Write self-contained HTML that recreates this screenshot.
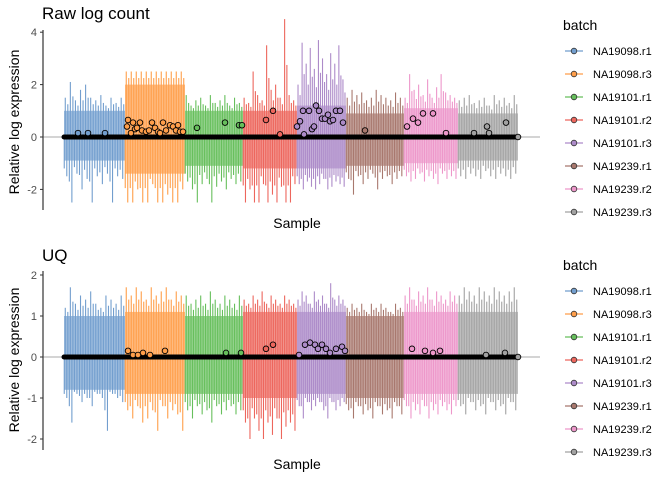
<!DOCTYPE html>
<html><head><meta charset="utf-8"><style>
body{margin:0;background:#fff;font-family:"Liberation Sans",sans-serif}
svg text{font-family:"Liberation Sans",sans-serif}
</style></head><body>
<svg id="c" width="672" height="480"></svg>
<script>
const batches=["NA19098.r1","NA19098.r3","NA19101.r1","NA19101.r2","NA19101.r3","NA19239.r1","NA19239.r2","NA19239.r3"];
const colors=["#729ece","#ff9e4a","#67bf5c","#ed665d","#ad8bc9","#a8786e","#ed97ca","#a2a2a2"];
const sampleCounts=[61,60,58,54,49,58,54,60];
// Raw log count panel
const rawCoreHi=[1.0,2.0,1.0,1.0,1.2,0.9,1.1,0.9];
const rawCoreLo=[-0.9,-1.4,-1.1,-1.2,-1.2,-1.1,-1.0,-0.9];
const rawHi=[[1.5,2.1,1.4,1.8,2.0,1.5,1.4,1.6,1.2,1.5,1.3,1.5],[2.5,2.5,2.5,2.5,2.5,2.5,2.5,2.5,2.5,2.5,2.5,2.5],[1.6,1.2,1.4,1.5,1.2,1.6,1.3,1.4,1.6,1.2,1.5,1.3],[1.5,1.3,2.5,1.6,1.4,3.5,1.8,2.0,1.5,4.5,1.6,1.4],[2.0,3.6,2.8,3.4,2.6,3.7,3.0,2.4,3.2,2.8,3.5,2.2],[1.5,1.8,1.6,1.7,1.4,1.5,1.8,1.6,1.5,1.4,1.7,1.5],[1.5,2.4,1.8,2.0,1.6,2.2,1.5,1.9,2.4,1.7,1.6,1.5],[1.4,1.5,1.6,1.3,1.4,1.5,1.2,1.6,1.4,1.5,1.3,1.6]];
const rawLo=[[-1.5,-2.5,-1.4,-2.0,-1.6,-2.5,-1.5,-1.8,-1.4,-2.5,-1.5,-1.6],[-2.5,-2.5,-2.0,-2.5,-2.5,-1.8,-2.5,-2.5,-2.2,-2.5,-2.5,-2.0],[-1.7,-2.0,-2.5,-1.8,-1.6,-2.5,-1.9,-1.7,-2.0,-1.6,-1.8,-1.7],[-2.5,-2.0,-2.5,-2.5,-1.8,-2.5,-2.2,-2.5,-1.9,-2.5,-2.5,-1.8],[-1.8,-2.0,-1.7,-1.9,-2.0,-1.8,-1.6,-2.0,-1.9,-1.7,-1.8,-1.9],[-1.6,-2.2,-1.5,-1.8,-1.6,-1.4,-2.0,-1.6,-1.5,-1.8,-1.6,-1.5],[-1.5,-1.7,-1.6,-1.4,-1.7,-1.5,-1.6,-1.8,-1.4,-1.6,-1.5,-1.6],[-1.5,-1.6,-1.4,-1.5,-1.6,-1.3,-1.5,-1.6,-1.4,-1.5,-1.6,-1.4]];
const rawPtIdx=[14,24,41,63,64,67,69,71,73,76,78,82,85,88,91,94,96,99,102,106,109,112,114,116,119,133,161,175,178,202,209,216,233,236,239,240,245,248,250,252,255,258,261,264,266,269,272,276,279,301,343,349,354,359,369,382,410,423,425,442,454];
const rawPtVal=[0.15,0.15,0.15,0.4,0.65,0.15,0.55,0.3,0.35,0.55,0.25,0.2,0.25,0.55,0.35,0.2,0.15,0.55,0.25,0.45,0.4,0.25,0.45,0.2,0.2,0.35,0.55,0.45,0.45,0.65,1.0,0.1,0.4,0.6,1.0,0.1,1.0,0.3,0.4,1.2,1.0,0.7,0.7,0.85,0.6,0.65,1.0,1.0,0.55,0.25,0.4,0.7,0.55,0.9,0.9,0.15,0.15,0.4,0.15,0.55,0];
// UQ panel
const uqCoreHi=[1.0,1.1,1.0,1.1,1.1,1.0,1.1,1.1];
const uqCoreLo=[-0.8,-0.9,-0.9,-1.0,-0.9,-1.0,-0.9,-0.9];
const uqHi=[[1.2,1.7,1.3,1.5,1.4,1.6,1.3,1.2,1.5,1.4,1.3,1.5],[1.7,1.5,1.7,1.6,1.4,1.7,1.5,1.6,1.7,1.4,1.6,1.5],[1.5,1.3,1.4,1.5,1.3,1.6,1.4,1.3,1.5,1.4,1.3,1.5],[1.4,1.3,1.5,1.4,1.6,1.3,1.5,1.4,1.3,1.5,1.4,1.3],[1.4,1.6,1.5,1.3,1.6,1.4,1.5,1.3,1.8,1.4,1.5,1.4],[1.2,1.3,1.2,1.3,1.1,1.3,1.2,1.3,1.2,1.1,1.3,1.2],[1.5,1.7,1.4,1.6,1.5,1.7,1.4,1.6,1.5,1.4,1.6,1.5],[1.5,1.7,1.6,1.5,1.7,1.6,1.5,1.7,1.6,1.5,1.6,1.7]];
const uqLo=[[-1.0,-1.6,-0.9,-1.1,-1.0,-1.2,-0.9,-1.0,-1.8,-0.9,-1.0,-1.1],[-1.3,-1.5,-1.2,-1.6,-1.5,-1.3,-1.8,-1.2,-1.5,-1.3,-1.4,-1.8],[-1.3,-1.5,-1.2,-1.4,-1.3,-1.6,-1.2,-1.4,-1.3,-1.2,-1.4,-1.3],[-1.6,-2.0,-1.5,-1.8,-2.0,-1.6,-1.9,-1.5,-2.0,-1.7,-1.6,-1.8],[-1.2,-1.5,-1.1,-1.3,-1.2,-1.1,-1.3,-1.5,-1.1,-1.3,-1.2,-1.1],[-1.3,-1.5,-1.2,-1.4,-1.3,-1.5,-1.2,-1.4,-1.3,-1.5,-1.2,-1.4],[-1.2,-1.5,-1.3,-1.4,-1.2,-1.5,-1.3,-1.4,-1.2,-1.3,-1.4,-1.2],[-1.2,-1.4,-1.1,-1.3,-1.2,-1.4,-1.1,-1.3,-1.2,-1.4,-1.1,-1.3]];
const uqPtIdx=[64,69,74,79,86,101,162,177,202,209,235,241,246,251,254,258,262,266,272,278,281,348,361,369,376,422,441,454];
const uqPtVal=[0.15,0.05,0.05,0.1,0.05,0.15,0.1,0.1,0.2,0.3,0.05,0.3,0.35,0.3,0.2,0.3,0.2,0.1,0.2,0.25,0.15,0.2,0.15,0.1,0.15,0.05,0.1,0];

const NS="http://www.w3.org/2000/svg";
const svg=document.getElementById('c');
function mk(tag,attrs,parent){const e=document.createElementNS(NS,tag);for(const k in attrs)e.setAttribute(k,attrs[k]);(parent||svg).appendChild(e);return e;}
const total=sampleCounts.reduce((a,b)=>a+b,0);
const X0=64,X1=518;
function xs(i){return X0+i*(X1-X0)/total;}

function panel(cfg){
  const g=mk('g',{});
  
  
  const ys=v=>cfg.y0-v*cfg.ppu;
  const ref=mk('line',{x1:43,x2:540,y1:cfg.y0,y2:cfg.y0,stroke:'#bbb','stroke-width':1.2},g);
  
  
  let start=0;
  sampleCounts.forEach((n,b)=>{
    const bg=mk('g',{},g);
    
    
    const xa=xs(start),xb=xs(start+n);
    const core=mk('rect',{x:xa,y:ys(cfg.coreHi[b]),width:xb-xa,height:ys(cfg.coreLo[b])-ys(cfg.coreHi[b]),fill:colors[b],opacity:0.7},bg);
    
    
    const hi=cfg.hi[b],lo=cfg.lo[b];
    const step=(xb-xa)/hi.length;
    hi.forEach((v,k)=>{
      const x=xa+(k+0.25)*step;
      const l=mk('line',{x1:x,x2:x,y1:ys(v),y2:ys(0),stroke:colors[b],'stroke-width':1.1},bg);
      
      
      const xm=xa+(k+0.75)*step;
      const lm=mk('line',{x1:xm,x2:xm,y1:ys((v+cfg.coreHi[b])/2),y2:ys(0),stroke:colors[b],'stroke-width':1.1},bg);
      
      
      const x2=xa+(k+0.55)*step;
      const l2=mk('line',{x1:x2,x2:x2,y1:ys(lo[k]),y2:ys(0),stroke:colors[b],'stroke-width':1.1},bg);
      
      
      const x3=xa+(k+0.05)*step;
      const l3=mk('line',{x1:x3,x2:x3,y1:ys((lo[k]+cfg.coreLo[b])/2),y2:ys(0),stroke:colors[b],'stroke-width':1.1},bg);
      
      
    });
    start+=n;
  });
  const med=mk('line',{x1:X0,x2:X1,y1:cfg.y0,y2:cfg.y0,stroke:'#000','stroke-width':5,'stroke-linecap':'round'},g);
  
  
  cfg.ptIdx.forEach((idx,k)=>{
    let s=0,b=0;while(b<sampleCounts.length-1&&idx>=s+sampleCounts[b]){s+=sampleCounts[b];b++;}
    const c=mk('circle',{cx:xs(idx),cy:ys(cfg.ptVal[k]),r:2.8,fill:colors[b],stroke:'#000','stroke-width':0.9},g);
    
    
  });
  const ax=mk('line',{x1:43,x2:43,y1:cfg.axTop,y2:cfg.axBot,stroke:'#333','stroke-width':1.2},g);
  
  
  cfg.ticks.forEach(t=>{
    const tk=mk('line',{x1:40,x2:43,y1:ys(t),y2:ys(t),stroke:'#333'},g);
    
    
    const tl=mk('text',{x:37,y:ys(t)+4,'text-anchor':'end','font-size':11,fill:'#4d4d4d'},g);
    tl.textContent=t;
    
    
  });
  const tt=mk('text',{x:42,y:cfg.titleY,'font-size':17,fill:'#000'},g);
  tt.textContent=cfg.title;
  
  
  const yt=mk('text',{x:0,y:0,transform:`translate(19,${cfg.yTitleY}) rotate(-90)`,'text-anchor':'middle','font-size':14},g);
  yt.textContent='Relative log expression';
  
  
  const xt=mk('text',{x:297,y:cfg.xTitleY,'text-anchor':'middle','font-size':14},g);
  xt.textContent='Sample';
  
  
  const lt=mk('text',{x:563,y:cfg.legY,'font-size':14},g);
  lt.textContent='batch';
  
  
  batches.forEach((bn,k)=>{
    const y=cfg.legY+21+k*23;
    const le=mk('g',{},g);
    
    
    mk('line',{x1:565,x2:583,y1:y,y2:y,stroke:colors[k],'stroke-width':1.2},le);
    mk('circle',{cx:574,cy:y,r:2.8,fill:colors[k],stroke:'#333','stroke-width':0.8},le);
    const t=mk('text',{x:593,y:y+4,'font-size':11},le);
    t.textContent=bn;
  });
}
panel({name:'raw-log-count-panel',title:'Raw log count',y0:137,ppu:26.2,axTop:30,axBot:210,ticks:[4,2,0,-2],coreHi:rawCoreHi,coreLo:rawCoreLo,hi:rawHi,lo:rawLo,ptIdx:rawPtIdx,ptVal:rawPtVal,titleY:19,yTitleY:122,xTitleY:228,legY:30});
panel({name:'uq-panel',title:'UQ',y0:357,ppu:41,axTop:271,axBot:450,ticks:[2,1,0,-1,-2],coreHi:uqCoreHi,coreLo:uqCoreLo,hi:uqHi,lo:uqLo,ptIdx:uqPtIdx,ptVal:uqPtVal,titleY:261,yTitleY:360,xTitleY:469,legY:270});
</script>
</body></html>
